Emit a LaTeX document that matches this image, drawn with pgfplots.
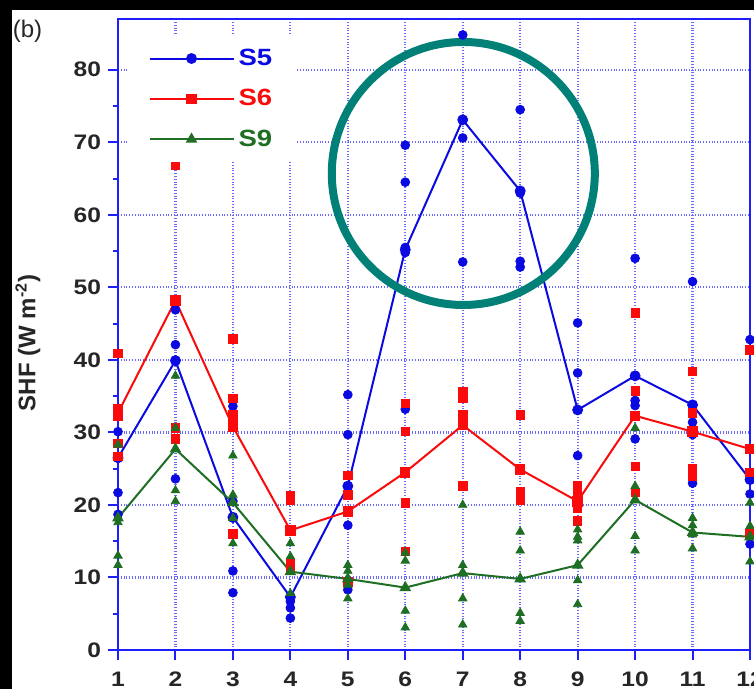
\documentclass[border=0pt]{standalone}
\usepackage{fontspec}
\setmainfont{Liberation Sans}
\newfontfamily\widesans[FakeStretch=1.17]{Liberation Sans}
\usepackage{pgfplots}
\pgfplotsset{compat=1.18}

\definecolor{axisblue}{RGB}{30,30,255}
\definecolor{gridblue}{RGB}{105,105,255}
\definecolor{sfiveblue}{RGB}{10,10,225}
\definecolor{ssixred}{RGB}{250,10,10}
\definecolor{snine}{RGB}{30,110,35}
\definecolor{ringteal}{RGB}{0,128,118}

% station means (lines)
\pgfplotstableread{
x y
1 26.5
2 39.9
3 18.3
4 7.3
5 22.6
6 55.2
7 73.1
8 63.3
9 33.1
10 37.8
11 33.8
12 23.5
}\meanfive
\pgfplotstableread{
x y
1 32.7
2 48.2
3 30.8
4 16.5
5 19.1
6 24.5
7 31.0
8 24.9
9 20.5
10 32.3
11 30.1
12 27.7
}\meansix
\pgfplotstableread{
x y
1 18.2
2 27.7
3 20.3
4 10.8
5 9.8
6 8.6
7 10.6
8 9.8
9 11.7
10 20.7
11 16.2
12 15.6
}\meannine

% individual values
\pgfplotstableread{
x y
1 30.1
1 21.7
1 18.7
2 47.8
2 46.9
2 42.1
2 23.6
3 33.6
3 20.5
3 18.2
3 10.9
3 7.9
4 6.7
4 5.8
4 4.4
5 35.2
5 29.7
5 17.2
5 8.3
6 69.6
6 64.5
6 55.5
6 54.8
6 33.2
7 84.8
7 70.6
7 53.5
8 74.5
8 63.0
8 53.6
8 52.8
9 45.1
9 38.2
9 26.8
10 54.0
10 34.4
10 33.7
10 29.1
11 50.8
11 31.4
11 29.7
11 23.0
12 42.8
12 21.5
12 14.6
}\ptsfive
\pgfplotstableread{
x y
1 40.9
1 33.3
1 32.3
1 28.5
1 26.7
2 66.8
2 30.6
2 29.1
3 42.9
3 34.7
3 32.4
3 31.4
3 16.0
4 21.3
4 20.6
4 12.0
4 11.3
5 24.1
5 21.4
5 9.4
6 34.0
6 30.1
6 20.3
6 13.6
7 35.6
7 34.7
7 32.4
7 31.6
7 22.6
8 32.4
8 21.8
8 20.7
9 22.6
9 21.6
9 19.6
9 17.8
10 46.5
10 35.7
10 25.3
10 21.7
11 38.4
11 32.7
11 25.0
11 24.0
12 41.4
12 24.5
12 16.0
}\ptssix
\pgfplotstableread{
x y
1 28.3
1 17.6
1 13.0
1 11.7
2 37.8
2 30.6
2 22.0
2 20.5
3 26.8
3 21.4
3 18.2
3 14.7
4 14.7
4 12.9
4 7.8
5 11.7
5 10.9
5 9.0
5 7.1
6 13.4
6 12.3
6 5.4
6 3.1
7 20.0
7 11.7
7 7.1
7 3.5
8 16.3
8 13.7
8 5.1
8 4.0
9 16.6
9 15.6
9 15.1
9 9.6
9 6.3
10 30.6
10 22.6
10 15.7
10 13.7
11 18.2
11 17.2
11 15.9
11 14.0
12 20.3
12 17.1
12 12.2
}\ptsnine

\begin{document}
\begin{tikzpicture}
\useasboundingbox (0pt,0pt) rectangle (377pt,344.5pt);
\fill[white] (0pt,0pt) rectangle (377pt,344.5pt);
\fill[black] (0pt,0pt) rectangle (6pt,344.5pt);
\fill[black] (0pt,339.5pt) rectangle (377pt,344.5pt);
\begin{axis}[
  at={(59pt,19.5pt)}, anchor=south west,
  scale only axis, width=316pt, height=315.5pt,
  xmin=1, xmax=12, ymin=0, ymax=87,
  xtick={1,...,12}, ytick={0,10,...,80},
  minor y tick num=1,
  xtick pos=lower, ytick pos=left,
  tick align=outside,
  major tick length=5pt, minor tick length=2.5pt,
  tick style={axisblue, line width=1pt},
  axis line style={axisblue, line width=1.2pt},
  grid=major,
  major grid style={densely dotted, gridblue, line width=1.1pt},
  /pgf/number format/assume math mode=true,
  ticklabel style={font=\widesans\bfseries\fontsize{10.5}{12}\selectfont, text=black!85},
  xticklabel style={yshift=-2.5pt},
  legend style={at={(0.016,0.974)}, anchor=north west, draw=none, fill=white,
    font=\widesans\bfseries\fontsize{11.75}{13}\selectfont, row sep=6.5pt,
    inner xsep=10pt, inner ysep=4.5pt, cells={anchor=west}},
  legend image code/.code={%
    \draw[mark repeat=2,mark phase=2] plot coordinates {(0pt,0pt) (21pt,0pt) (42pt,0pt)};},
]
% individual values
\addplot[only marks, mark=*, mark size=2.2pt, color=sfiveblue, forget plot] table {\ptsfive};
\addplot[sfiveblue, line width=1pt, mark=*, mark size=2.2pt] table {\meanfive};
\addlegendentry{\textcolor{sfiveblue}{S5}}
\addplot[only marks, mark=square*, mark size=2.1pt, color=ssixred, forget plot] table {\ptssix};
\addplot[ssixred, line width=1pt, mark=square*, mark size=2.1pt] table {\meansix};
\addlegendentry{\textcolor{ssixred}{S6}}
\addplot[only marks, mark=triangle*, mark size=2.4pt, color=snine, forget plot] table {\ptsnine};
\addplot[snine, line width=1pt, mark=triangle*, mark size=2.4pt] table {\meannine};
\addlegendentry{\textcolor{snine}{S9}}
% highlight ring around the peak
\draw[ringteal, line width=4pt] (axis cs:7.01,65.7) circle[radius=65.75pt];
\end{axis}
\node[rotate=90, font=\bfseries\fontsize{12}{14}\selectfont, text=black!85] at (14pt,173pt) {SHF (W m\textsuperscript{-2})};
\node[font=\fontsize{12}{14}\selectfont, text=black!85] at (13.75pt,329pt) {(b)};
\end{tikzpicture}
\end{document}
